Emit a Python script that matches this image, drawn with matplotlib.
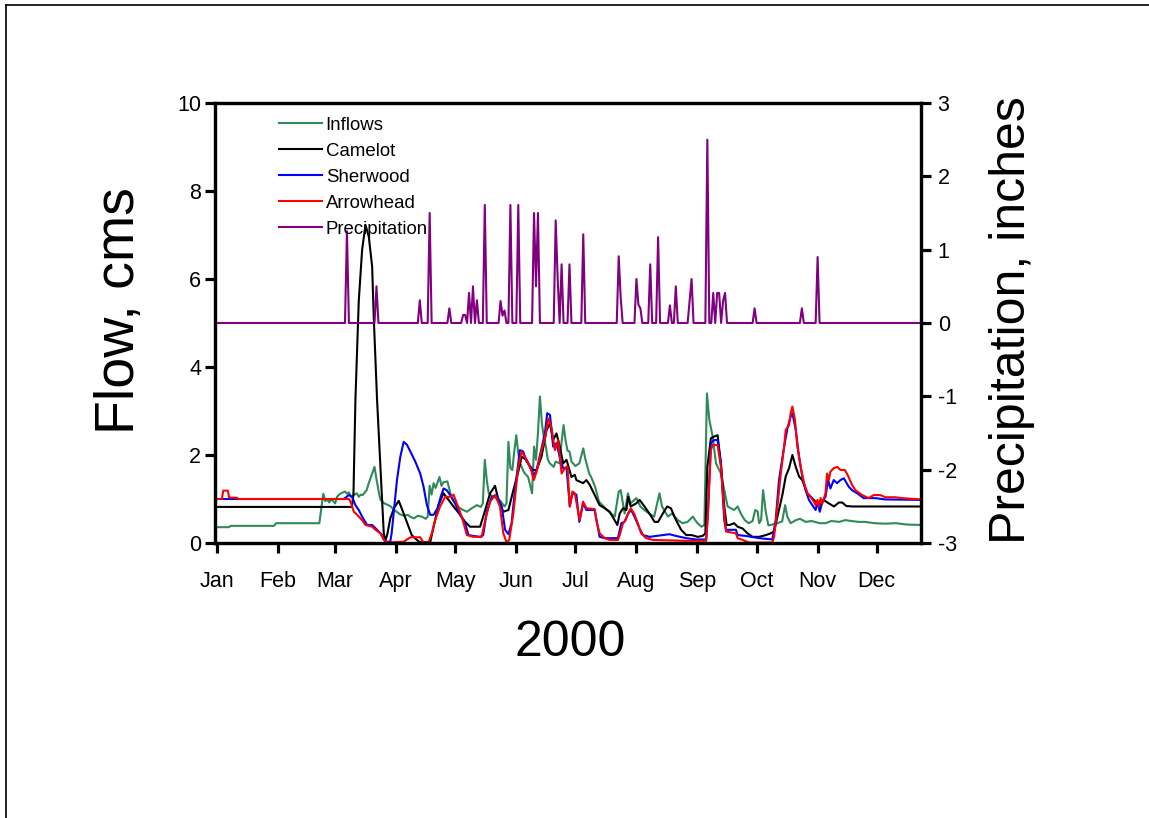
import numpy as np
import matplotlib
matplotlib.use("Agg")
import matplotlib.pyplot as plt
from matplotlib.lines import Line2D

plt.rcParams['font.family'] = ['Liberation Sans', 'DejaVu Sans']
plt.rcParams['axes.unicode_minus'] = False

# x values are day of year 2000 (0 = Jan 1)
month_days = [0, 31, 60, 91, 121, 152, 182, 213, 244, 274, 305, 335]
month_labels = ['Jan', 'Feb', 'Mar', 'Apr', 'May', 'Jun', 'Jul', 'Aug', 'Sep', 'Oct', 'Nov', 'Dec']

# Inflows, cms as (day, value)
inflows = [(0, 0.36), (6, 0.36), (7, 0.39), (29, 0.39), (30, 0.45), (52, 0.45), (53, 0.8), (54, 1.12), (55, 0.95),
           (56, 1.0), (57, 0.92), (58, 1.0), (59, 0.95), (60, 0.9), (61, 1.05), (62, 1.1), (63, 1.13), (65, 1.17),
           (66, 1.12), (67, 1.15), (68, 1.05), (69, 1.08), (71, 1.13), (72, 1.05), (73, 1.1), (74, 1.09),
           (76, 1.2), (77, 1.35), (79, 1.6), (80, 1.73), (81, 1.45), (82, 1.2), (83, 0.98), (85, 0.9), (88, 0.84),
           (90, 0.75), (93, 0.65), (95, 0.62), (97, 0.64), (98, 0.6), (100, 0.56), (102, 0.62), (104, 0.6),
           (106, 0.55), (107, 0.6), (108, 1.3), (109, 1.1), (110, 1.36), (111, 1.25), (113, 1.5), (114, 1.3),
           (115, 1.38), (117, 1.4), (119, 1.05), (121, 0.9), (123, 0.8), (125, 0.75), (127, 0.71), (129, 0.78),
           (132, 0.86), (134, 0.82), (135, 0.9), (136, 1.89), (137, 1.43), (138, 1.13), (140, 1.05), (142, 1.02),
           (144, 0.95), (146, 0.83), (147, 0.9), (148, 2.3), (149, 1.7), (150, 1.66), (151, 2.1), (152, 2.45),
           (153, 2.04), (154, 1.8), (156, 1.6), (158, 1.5), (160, 1.13), (161, 2.19), (162, 1.89), (163, 2.5),
           (164, 3.33), (165, 2.72), (166, 2.4), (167, 2.19), (168, 1.9), (169, 1.81), (171, 1.73), (172, 1.85),
           (174, 1.81), (175, 2.3), (176, 2.68), (177, 2.34), (178, 2.1), (179, 2.08), (180, 1.85), (182, 1.75),
           (184, 1.81), (186, 2.15), (187, 1.92), (189, 1.58), (190, 1.5), (192, 1.28), (194, 0.94), (197, 0.8),
           (199, 0.71), (202, 0.6), (204, 1.17), (205, 1.2), (207, 0.67), (208.7, 1.13), (210, 0.9), (213, 1.02),
           (215, 0.83), (217, 0.75), (220, 0.65), (222, 0.6), (224.7, 1.13), (226, 0.83), (229, 0.6), (231, 0.67),
           (234, 0.52), (236.5, 0.45), (239, 0.48), (241.6, 0.6), (244, 0.45), (246, 0.37), (247.5, 0.41),
           (248.8, 3.4), (250, 2.8), (251.7, 2.42), (253.4, 1.81), (255.9, 1.58), (257.6, 1.2), (259.3, 0.83),
           (261, 0.79), (262.6, 0.75), (264.4, 0.83), (266, 0.67), (268, 0.52), (270, 0.45), (272, 0.5),
           (273.3, 0.75), (274.5, 0.72), (275.3, 0.45), (276.3, 0.52), (277.3, 1.2), (278.7, 0.7), (280, 0.4),
           (282, 0.42), (284.6, 0.45), (287, 0.49), (288.5, 0.86), (289.6, 0.6), (291.3, 0.45), (294, 0.52),
           (296, 0.55), (299, 0.48), (302, 0.5), (306, 0.45), (309, 0.45), (312, 0.5), (316, 0.48), (319, 0.52),
           (322, 0.5), (326, 0.48), (329, 0.48), (334, 0.45), (339, 0.44), (345, 0.45), (350, 0.42), (357.5, 0.41)]

# Camelot, cms
camelot = [(0, 0.82), (68.5, 0.82), (69.3, 1.1), (70.3, 3.25), (72, 5.5), (73.7, 6.66), (75.4, 7.23), (77.1, 6.96),
           (78.8, 6.28), (79.6, 5.14), (81.3, 3.25), (83, 1.73), (84.7, 0.22), (85.5, 0.05), (86.5, 0.2),
           (88, 0.56), (90, 0.8), (92.3, 0.96), (94.8, 0.67), (97.3, 0.37), (98.9, 0.18), (101.5, 0.07),
           (103, 0.02), (108.3, 0.02), (110, 0.37), (112.5, 0.86), (115, 1.13), (117.6, 0.98), (120.1, 0.83),
           (123.5, 0.64), (126, 0.48), (128.5, 0.37), (133.6, 0.37), (136.2, 0.75), (138.7, 1.13), (141.2, 1.3),
           (142.9, 0.98), (145.4, 0.71), (148, 0.75), (150.5, 1.2), (153, 1.62), (154.7, 1.96), (157.2, 1.89),
           (159.8, 1.66), (162.3, 1.66), (164.8, 1.96), (167.4, 2.57), (169.1, 2.72), (170.7, 2.34),
           (172.4, 2.49), (174.1, 2.19), (175.8, 1.81), (177.5, 1.89), (180, 1.5), (181.7, 1.55), (182.5, 1.43),
           (185.9, 1.36), (187.6, 1.43), (189.3, 1.32), (191.8, 1.09), (194.3, 0.86), (196.9, 0.79),
           (199.4, 0.71), (201.9, 0.52), (203.3, 0.41), (204.5, 0.67), (206.2, 0.79), (207.9, 0.75),
           (208.8, 1.05), (210.1, 0.83), (212.9, 0.9), (214.6, 0.98), (217.1, 0.83), (219.6, 0.67), (222.2, 0.48),
           (224, 0.48), (226.4, 0.67), (228.6, 0.83), (230.5, 0.79), (233.1, 0.52), (235.7, 0.3), (238.3, 0.18),
           (241, 0.18), (244.1, 0.14), (246.6, 0.16), (248, 0.22), (249, 1.73), (250.8, 2.38), (252.5, 2.42),
           (254.2, 2.45), (255.9, 1.81), (257.6, 0.83), (258.8, 0.41), (260.4, 0.41), (262.6, 0.45),
           (264.4, 0.37), (266.9, 0.33), (269.4, 0.22), (272, 0.14), (275.3, 0.14), (278.7, 0.18), (281.2, 0.22),
           (282.9, 0.26), (284.6, 0.6), (287.1, 1.09), (288.8, 1.51), (290.5, 1.7), (292.2, 2.0), (293.9, 1.73),
           (295.6, 1.51), (297.2, 1.43), (299.8, 1.13), (301.5, 1.05), (303.1, 0.98), (304.8, 0.9), (306.5, 0.86),
           (308, 0.98), (310.7, 0.9), (313.3, 0.83), (315.8, 0.92), (317.5, 0.92), (319.6, 0.84), (323, 0.83),
           (357.5, 0.83)]

# Sherwood, cms
sherwood = [(0, 1.0), (64.4, 1.0), (67, 1.09), (68.6, 1.05), (70.3, 0.86), (72, 0.75), (73.7, 0.6), (76.2, 0.41),
            (78.8, 0.41), (81.3, 0.3), (83.8, 0.18), (85.5, 0.03), (88, 0.03), (88.7, 0.22), (89.7, 0.67),
            (91.4, 1.43), (93.1, 1.96), (94.8, 2.3), (96.5, 2.23), (98.2, 2.08), (100.7, 1.85), (103.2, 1.58),
            (104.9, 1.28), (106.6, 0.86), (108.3, 0.64), (110, 0.64), (112, 0.79), (113.6, 1.05), (115.1, 1.24),
            (116.7, 1.2), (118.4, 1.09), (120.9, 0.9), (123.5, 0.64), (126, 0.45), (127.7, 0.18), (130.2, 0.16),
            (133.6, 0.14), (135.2, 0.18), (137, 0.71), (139.5, 1.05), (142, 1.09), (144.6, 0.83), (146.3, 0.3),
            (148, 0.2), (149.6, 0.45), (151.3, 1.2), (153.8, 2.11), (155.5, 2.08), (157.2, 1.85), (159.8, 1.7),
            (160.6, 1.5), (162.3, 1.66), (164.8, 2.15), (166.5, 2.49), (167.7, 2.95), (169.1, 2.91), (170.7, 2.19),
            (172.4, 2.27), (174.4, 1.89), (175.8, 1.7), (177.5, 1.7), (179.2, 0.83), (180.5, 1.13), (182.5, 1.1),
            (184, 0.48), (185.9, 0.9), (187.6, 0.75), (191.8, 0.75), (194.3, 0.14), (196.9, 0.11), (203.6, 0.11),
            (205.3, 0.45), (206.9, 0.48), (208.8, 0.67), (210.3, 0.75), (212, 0.6), (214.6, 0.33), (216.3, 0.18),
            (219.6, 0.14), (226.4, 0.18), (229.8, 0.2), (233.1, 0.16), (238.3, 0.11), (243.3, 0.08), (248.4, 0.08),
            (249.3, 0.67), (250.8, 2.27), (252.5, 2.34), (254.2, 2.34), (255.9, 1.81), (257.6, 0.52), (258.5, 0.3),
            (263.5, 0.3), (264.4, 0.18), (268.6, 0.16), (275.3, 0.11), (282, 0.08), (283.7, 0.52), (285.4, 1.43),
            (288, 2.19), (289.7, 2.61), (291.3, 2.87), (292.2, 2.95), (293.9, 2.57), (295.6, 1.96), (297.2, 1.51),
            (298.9, 1.2), (300.6, 0.98), (302.3, 0.86), (304, 0.75), (305, 0.94), (306.1, 0.71), (307.4, 0.94),
            (309, 1.05), (310.3, 1.43), (311.5, 1.24), (313.2, 1.43), (314.9, 1.36), (316.6, 1.43), (318.3, 1.47),
            (320.8, 1.28), (322.5, 1.2), (325.1, 1.13), (328.4, 1.02), (334.3, 1.02), (339.4, 0.99), (357.5, 0.98)]

# Arrowhead, cms
arrowhead = [(0, 1.0), (2.5, 1.0), (3.2, 1.19), (5.5, 1.19), (6.2, 1.03), (10, 1.03), (11, 1.0), (64.4, 1.0),
             (67, 1.0), (67.8, 0.94), (69.5, 0.71), (71.2, 0.64), (73.7, 0.52), (75.4, 0.41), (78.8, 0.37),
             (80.5, 0.3), (83, 0.22), (84.7, 0.07), (86.4, 0.01), (94.8, 0.03), (98.2, 0.13), (103.2, 0.13),
             (104.9, 0.01), (107.4, 0.01), (109.1, 0.22), (110.8, 0.52), (113.3, 0.83), (115.9, 1.05),
             (118.4, 1.05), (120.1, 1.1), (121.8, 0.9), (124.3, 0.6), (126.9, 0.18), (130.2, 0.14), (134.4, 0.14),
             (136.2, 0.52), (138.7, 0.94), (141.2, 1.09), (143.7, 0.83), (145.4, 0.22), (147.1, 0.01),
             (148.4, 0.07), (150.5, 0.67), (153, 1.73), (154.7, 2.08), (156.4, 1.96), (158.1, 1.81), (159.8, 1.62),
             (160.9, 1.43), (162.3, 1.62), (164.8, 2.11), (166.5, 2.38), (168.2, 2.83), (169.8, 2.64),
             (171.6, 2.11), (173.3, 2.34), (175, 1.58), (176.6, 1.7), (178, 1.75), (179.1, 0.83), (180.5, 1.17),
             (181.7, 1.13), (182.9, 0.83), (184.2, 0.52), (185.9, 0.94), (187.6, 0.79), (191.8, 0.77),
             (192.6, 0.52), (194.3, 0.22), (196.9, 0.11), (199.4, 0.07), (203.6, 0.07), (204.5, 0.18),
             (206.2, 0.45), (207.5, 0.52), (208.8, 0.67), (210.1, 0.79), (211.8, 0.67), (213.7, 0.45),
             (215.4, 0.22), (217.9, 0.11), (221.3, 0.07), (238.3, 0.05), (248.4, 0.05), (249.3, 0.67),
             (250.8, 2.11), (251.7, 2.23), (254.2, 2.23), (255.9, 1.73), (257.6, 0.67), (258.5, 0.26),
             (263.5, 0.22), (264.4, 0.11), (266.9, 0.07), (270.2, 0.01), (282, 0.01), (282.9, 0.14), (284.6, 0.83),
             (286.3, 1.58), (288, 2.19), (288.8, 2.57), (290.5, 2.68), (291.3, 2.95), (292.2, 3.1), (293.5, 2.8),
             (294.7, 2.19), (296.4, 1.73), (298.1, 1.36), (299.8, 1.13), (301.5, 1.05), (303.1, 0.94), (304, 0.86),
             (304.9, 0.98), (305.7, 0.83), (306.5, 1.02), (307.4, 0.9), (309, 1.13), (309.8, 1.58), (310.7, 1.43),
             (311.5, 1.62), (313.2, 1.7), (314.9, 1.73), (316.6, 1.66), (318.8, 1.66), (320.2, 1.55),
             (322.5, 1.32), (324.2, 1.2), (327.6, 1.09), (330.9, 1.02), (333.5, 1.09), (336.8, 1.09),
             (339.4, 1.04), (344.5, 1.04), (347.8, 1.02), (357.5, 0.99)]

# Precipitation, inches (rain days only; all other days are 0)
rain_day = [66, 81, 103, 108, 118, 125, 126, 128, 130, 132, 136, 144, 145, 146, 149, 153, 161, 162, 163, 172, 173,
            175, 179, 186, 204, 205, 213, 214, 215, 220, 224, 230, 233, 240, 241, 249, 252, 254, 255, 257, 258,
            273, 297, 305]
rain_in = [1.25, 0.5, 0.31, 1.5, 0.2, 0.11, 0.11, 0.41, 0.5, 0.31, 1.61, 0.3, 0.1, 0.17, 1.61, 1.61, 1.5, 0.5,
           1.5, 1.4, 0.61, 0.8, 0.8, 1.21, 0.91, 0.35, 0.6, 0.25, 0.2, 0.8, 1.17, 0.24, 0.5, 0.3, 0.6, 2.5, 0.41,
           0.41, 0.41, 0.3, 0.41, 0.2, 0.2, 0.9]

precip_days = np.arange(0, 358)
precip = np.zeros(len(precip_days))
precip[rain_day] = rain_in

fig = plt.figure(figsize=(11.49, 8.18), dpi=100)
ax = fig.add_axes([215 / 1149, 275 / 818, 706 / 1149, 440 / 818])
ax2 = ax.twinx()

lw = 1.5
series = [(inflows, '#2e8b57', 'Inflows'), (camelot, 'black', 'Camelot'),
          (sherwood, 'blue', 'Sherwood'), (arrowhead, 'red', 'Arrowhead')]
for pts, col, name in series:
    d, v = zip(*pts)
    ax.plot(d, v, color=col, lw=lw, label=name)
ax2.plot(precip_days, precip, color='purple', lw=lw, label='Precipitation')

ax.set_xlim(-1, 357.5)
ax.set_ylim(0, 10)
ax2.set_ylim(-3, 3)
ax.set_xticks(month_days)
ax.set_xticklabels(month_labels)
ax.set_yticks([0, 2, 4, 6, 8, 10])
ax2.set_yticks([-3, -2, -1, 0, 1, 2, 3])

for a in (ax, ax2):
    for s in a.spines.values():
        s.set_linewidth(2.3)
    a.tick_params(direction='out', length=7, width=2.3, labelsize=15.5)
ax.tick_params(axis='x', pad=13)
ax.tick_params(axis='y', pad=3)
ax2.tick_params(axis='y', pad=5)

# legend holding the lines of both axes
handles = ax.get_lines() + ax2.get_lines()
leg = ax2.legend(handles, [h.get_label() for h in handles], loc='upper left', bbox_to_anchor=(0.075, 0.994),
                 frameon=False, fontsize=13.4, handlelength=2.3, handletextpad=0.2, labelspacing=0.48,
                 borderaxespad=0.2)

fig.text(570 / 1149, 1 - 643 / 818, '2000', fontsize=36, ha='center', va='center')
fig.text(120 / 1149, 1 - 311 / 818, 'Flow, cms', fontsize=40, rotation=90, ha='center', va='center')
fig.text(1012 / 1149, 1 - 320 / 818, 'Precipitation, inches', fontsize=36, rotation=90, ha='center', va='center')

# border of the slide
fig.add_artist(Line2D([6 / 1149, 6 / 1149], [0, 1 - 5 / 818], color='black', lw=1.2))
fig.add_artist(Line2D([6 / 1149, 1], [1 - 5 / 818, 1 - 5 / 818], color='black', lw=1.2))

fig.savefig('out.png', dpi=100)
